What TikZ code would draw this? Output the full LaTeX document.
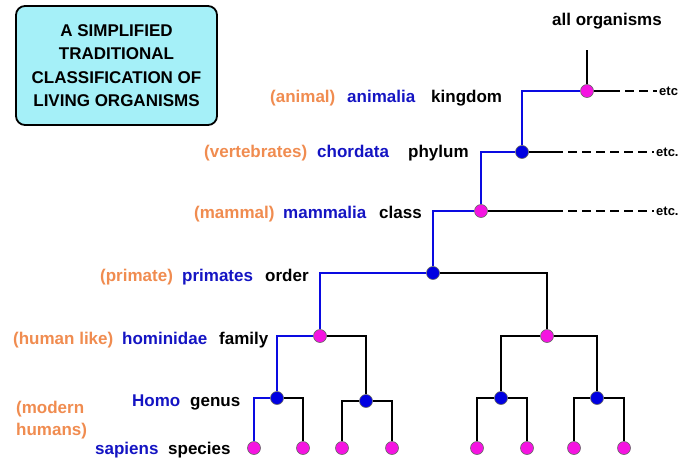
\documentclass[tikz,border=0pt]{standalone}
\usepackage{fontspec}
\setmainfont{Liberation Sans}
\usetikzlibrary{positioning}
\definecolor{commonname}{RGB}{240,140,80}
\definecolor{taxonname}{RGB}{20,20,195}
\definecolor{branchblue}{RGB}{10,10,225}
\definecolor{pinkfill}{RGB}{245,20,225}
\definecolor{bluefill}{RGB}{0,0,225}
\definecolor{titlefill}{RGB}{165,240,248}

\begin{document}
\begin{tikzpicture}[x=1pt,y=-1pt,
  font=\bfseries\fontsize{17}{23.5}\selectfont,
  pinkdot/.style={circle,draw=black!60,line width=0.6pt,fill=pinkfill,minimum size=13pt,inner sep=0pt},
  bluedot/.style={pinkdot,fill=bluefill},
  line/.style={line width=2.4pt},
  human/.style={line,draw=branchblue},
  etcline/.style={line,dash pattern=on 9pt off 5pt,dash phase=9pt},
  common/.style={text=commonname,anchor=base west,inner sep=0pt},
  latin/.style={text=taxonname,anchor=base west,inner sep=0pt},
  rank/.style={anchor=base west,inner sep=0pt},
  etc/.style={font=\bfseries\fontsize{13}{13}\selectfont,anchor=west,inner sep=2pt},
  titlebox/.style={draw,line width=1.8pt,rounded corners=9pt,fill=titlefill,
    minimum width=201pt,minimum height=119pt,align=center}]
\useasboundingbox (0,0) rectangle (680,458);

\node[titlebox] (title) at (116.5,65.5) {A SIMPLIFIED\\TRADITIONAL\\CLASSIFICATION OF\\LIVING ORGANISMS};

% the dots of the tree
\node[pinkdot] (kingdom) at (587,91) {};
\node[bluedot] (phylum) at (522,152) {};
\node[pinkdot] (class) at (481,211) {};
\node[bluedot] (order) at (433,273) {};
\node[pinkdot] (family) at (320,336) {};
\node[pinkdot] (family2) at (547,336) {};
\node[bluedot] (genus) at (277,398) {};
\node[bluedot] (genus2) at (366,401) {};
\node[bluedot] (genus3) at (501,398) {};
\node[bluedot] (genus4) at (597,398) {};
\foreach \n/\x in {sapiens/254,sp2/303,sp3/342,sp4/392,sp5/477,sp6/527,sp7/574,sp8/624}
  \node[pinkdot] (\n) at (\x,448) {};

% root and the etc branches
\coordinate (root) at (587,50);
\coordinate (k1) at (620,91);
\coordinate (p1) at (563,152);
\coordinate (c1) at (563,211);
\node[etc] (etc1) at (657,91) {etc};
\node[etc] (etc2) at (654,152) {etc.};
\node[etc] (etc3) at (654,211) {etc.};
\draw[line] (root) -- (kingdom);
\draw[line] (kingdom) -- (k1);
\draw[etcline] (k1) -- (etc1.west);
\draw[line] (phylum) -- (p1);
\draw[etcline] (p1) -- (etc2.west);
\draw[line] (class) -- (c1);
\draw[etcline] (c1) -- (etc3.west);

% line to humans
\draw[human] (kingdom) -| (phylum);
\draw[human] (phylum) -| (class);
\draw[human] (class) -| (order);
\draw[human] (order) -| (family);
\draw[human] (family) -| (genus);
\draw[human] (genus) -| (sapiens);

% other branches
\draw[line] (order) -| (family2);
\draw[line] (family) -| (genus2);
\draw[line] (genus) -| (sp2);
\draw[line] (genus2) -| (sp3);
\draw[line] (genus2) -| (sp4);
\draw[line] (family2) -| (genus3);
\draw[line] (family2) -| (genus4);
\draw[line] (genus3) -| (sp5);
\draw[line] (genus3) -| (sp6);
\draw[line] (genus4) -| (sp7);
\draw[line] (genus4) -| (sp8);

% labels
\node[rank] (all) at (552,25) {all organisms};
\node[common] (animal) at (270,102) {(animal)};
\node[latin] (animalia) at (347,102) {animalia};
\node[rank] (kingdomlbl) at (431,102) {kingdom};
\node[common] (vertebrates) at (204,157) {(vertebrates)};
\node[latin] (chordata) at (317,157) {chordata};
\node[rank] (phylumlbl) at (408,157) {phylum};
\node[common] (mammal) at (194,218) {(mammal)};
\node[latin] (mammalia) at (283,218) {mammalia};
\node[rank] (classlbl) at (379,218) {class};
\node[common] (primate) at (100,281) {(primate)};
\node[latin] (primates) at (182,281) {primates};
\node[rank] (orderlbl) at (265,281) {order};
\node[common] (humanlike) at (13,344) {(human like)};
\node[latin] (hominidae) at (122,344) {hominidae};
\node[rank] (familylbl) at (219,344) {family};
\node[latin] (homo) at (132,406) {Homo};
\node[rank] (genuslbl) at (190,406) {genus};
\node[common] (modern) at (16,413) {(modern};
\node[common] (humans) at (16,435) {humans)};
\node[latin] (sapienslbl) at (95,454) {sapiens};
\node[rank] (specieslbl) at (168,454) {species};
\end{tikzpicture}
\end{document}
